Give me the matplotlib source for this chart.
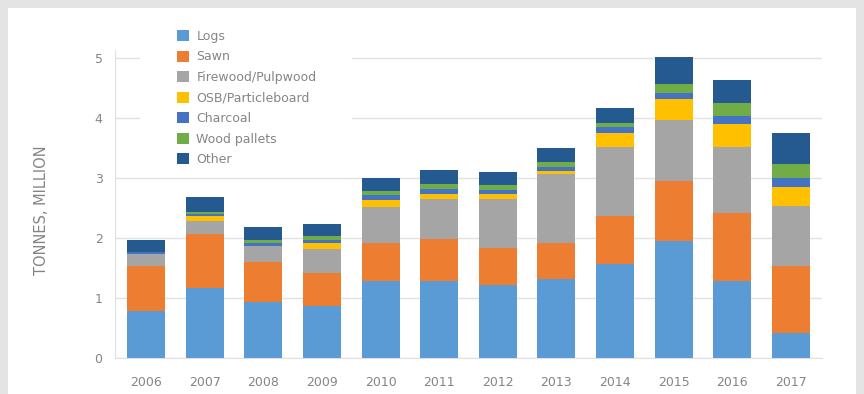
import matplotlib
matplotlib.use('Agg')
import matplotlib.pyplot as plt
from matplotlib.patches import Rectangle
import numpy as np

years = ['2006', '2007', '2008', '2009', '2010', '2011', '2012',
         '2013', '2014', '2015', '2016', '2017']

logs     = [0.79, 1.17, 0.94, 0.87, 1.28, 1.28, 1.22, 1.31, 1.57, 1.95, 1.28, 0.42]
sawn     = [0.75, 0.89, 0.66, 0.55, 0.64, 0.70, 0.62, 0.61, 0.80, 1.00, 1.14, 1.11]
firewood = [0.20, 0.22, 0.26, 0.39, 0.60, 0.66, 0.81, 1.14, 1.15, 1.01, 1.10, 1.00]
osb      = [0.00, 0.08, 0.01, 0.11, 0.11, 0.09, 0.08, 0.06, 0.22, 0.35, 0.37, 0.31]
charcoal = [0.02, 0.04, 0.04, 0.05, 0.09, 0.08, 0.07, 0.06, 0.10, 0.10, 0.14, 0.15]
pallets  = [0.01, 0.04, 0.05, 0.07, 0.06, 0.09, 0.08, 0.08, 0.08, 0.15, 0.21, 0.24]
other    = [0.20, 0.24, 0.22, 0.20, 0.22, 0.23, 0.21, 0.23, 0.25, 0.46, 0.39, 0.51]

series = [
    ('Logs', logs, '#5b9bd5'),
    ('Sawn', sawn, '#ed7d31'),
    ('Firewood/Pulpwood', firewood, '#a5a5a5'),
    ('OSB/Particleboard', osb, '#ffc000'),
    ('Charcoal', charcoal, '#4472c4'),
    ('Wood pallets', pallets, '#70ad47'),
    ('Other', other, '#245a8f'),
]

W, H = 864, 394
fig = plt.figure(figsize=(W / 100, H / 100), dpi=100, facecolor='#e4e4e4')

# white panel inside the grey frame
bg = fig.add_axes([0, 0, 1, 1], zorder=-1)
bg.set_axis_off()
bg.set_xlim(0, W)
bg.set_ylim(0, H)
bg.add_patch(Rectangle((8, 0), 848, H - 8, facecolor='white', edgecolor='none'))

ax = fig.add_axes([115 / W, (H - 358) / H, 707 / W, 308 / H], zorder=1)
ax.set_facecolor('none')

x = np.arange(len(years))
bottom = np.zeros(len(years))
for name, vals, col in series:
    ax.bar(x, vals, width=0.65, bottom=bottom, color=col, label=name, zorder=3)
    bottom += np.array(vals)

ax.set_xlim(-0.53, 11.53)
ax.set_ylim(0, 5.13)
ax.set_yticks([0, 1, 2, 3, 4, 5])
ax.set_xticks(x)
ax.set_xticklabels(years)
ax.grid(axis='y', color='#e2e2e2', linewidth=1, zorder=0)
ax.tick_params(length=0, colors='#858585', labelsize=9)
ax.tick_params(axis='y', pad=9)
ax.tick_params(axis='x', pad=13)

for s in ['top', 'right']:
    ax.spines[s].set_visible(False)
ax.spines['left'].set_color('#e0e0e0')
ax.spines['bottom'].set_color('#e0e0e0')

fig.text(42 / W, 1 - 210 / H, 'TONNES, MILLION', rotation=90, ha='center',
         va='center', color='#858585', fontsize=10.5)

# white box behind the legend hides the top gridlines
ax.add_patch(Rectangle((140 / W, (H - 170) / H), 212 / W, 150 / H,
                       transform=fig.transFigure, facecolor='white',
                       edgecolor='none', zorder=2, clip_on=False))

leg = ax.legend(loc='upper left', bbox_to_anchor=(177 / W, 1 - 30 / H),
                bbox_transform=fig.transFigure, frameon=False, fontsize=9,
                handlelength=0.96, handleheight=0.96, handletextpad=0.6,
                labelspacing=0.6, borderpad=0, borderaxespad=0)
leg.set_zorder(5)
for t in leg.get_texts():
    t.set_color('#858585')

fig.savefig('out.png', dpi=100, facecolor=fig.get_facecolor())
